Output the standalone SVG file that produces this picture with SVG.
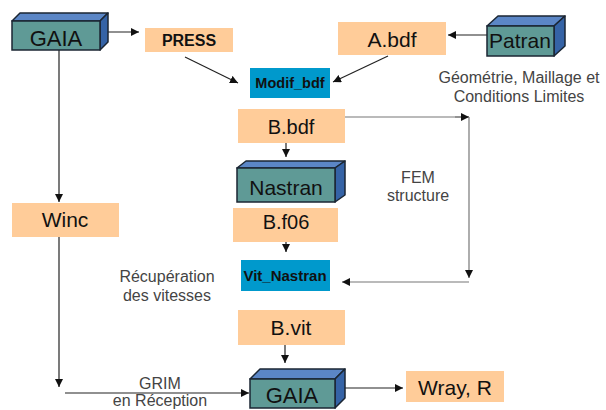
<svg xmlns="http://www.w3.org/2000/svg" width="606" height="410" viewBox="0 0 606 410">
<defs>
<style>
.bx{fill:#FFCC99}
.bl{fill:#0099CC}
.fr{fill:#5F9A96;stroke:#1B2633;stroke-width:1.5}
.tp{fill:#5B86C6;stroke:#1B2633;stroke-width:1.5;stroke-linejoin:round}
.sd{fill:#3563A6;stroke:#1B2633;stroke-width:1.5;stroke-linejoin:round}
.t{font-family:"Liberation Sans",Arial,sans-serif;fill:#111;text-anchor:middle}
.tb{font-family:"Liberation Sans",Arial,sans-serif;font-weight:bold;fill:#111;text-anchor:middle}
.lb{font-family:"Liberation Sans",Arial,sans-serif;font-size:16px;fill:#444;text-anchor:middle}
.ln{stroke:#222;stroke-width:1.2;fill:none}
.lg{stroke:#777;stroke-width:1.2;fill:none}
</style>
<marker id="ah" viewBox="0 0 10 10" refX="10" refY="5" markerWidth="8" markerHeight="8" markerUnits="userSpaceOnUse" orient="auto">
<path d="M0,0 L10,5 L0,10 z" fill="#111"/>
</marker>
</defs>

<g id="connectors">
<line class="ln" x1="100" y1="32" x2="139" y2="32" marker-end="url(#ah)"/>
<line class="ln" x1="185" y1="57" x2="238" y2="83" marker-end="url(#ah)"/>
<line class="ln" x1="388" y1="56" x2="333" y2="82" marker-end="url(#ah)"/>
<line class="ln" x1="489" y1="35" x2="448" y2="35" marker-end="url(#ah)"/>
<line class="ln" x1="286" y1="143" x2="286" y2="157" marker-end="url(#ah)"/>
<line class="ln" x1="286" y1="242" x2="286" y2="252" marker-end="url(#ah)"/>
<polyline class="lg" points="345,117 469,117"/>
<line class="lg" x1="455" y1="117" x2="469" y2="117" marker-end="url(#ah)"/>
<line class="lg" x1="469" y1="117" x2="469" y2="278" marker-end="url(#ah)"/>
<line class="lg" x1="469" y1="282" x2="342" y2="282" marker-end="url(#ah)"/>
<line class="ln" x1="59" y1="50" x2="59" y2="202" marker-end="url(#ah)"/>
<line class="ln" x1="59" y1="237" x2="59" y2="387" marker-end="url(#ah)"/>
<line class="ln" x1="65" y1="393" x2="249" y2="393" marker-end="url(#ah)"/>
<line class="ln" x1="285" y1="345" x2="285" y2="363" marker-end="url(#ah)"/>
<line class="ln" x1="340" y1="388" x2="403" y2="388" marker-end="url(#ah)"/>
</g>

<g id="gaia-top">
<polygon class="tp" points="12,21 20,13 108,13 100,21"/>
<polygon class="sd" points="100,21 108,13 108,42 100,50"/>
<rect class="fr" x="12" y="21" width="88" height="29"/>
<text class="t" x="56" y="46" font-size="22">GAIA</text>
</g>

<g id="press">
<rect class="bx" x="145" y="28" width="88" height="24"/>
<text class="tb" x="189" y="46" font-size="16">PRESS</text>
</g>

<g id="abdf">
<rect class="bx" x="338" y="22" width="108" height="33"/>
<text class="t" x="392" y="47" font-size="21">A.bdf</text>
</g>

<g id="patran">
<polygon class="tp" points="487,26 498,16 565,16 554,26"/>
<polygon class="sd" points="554,26 565,16 565,46 554,56"/>
<rect class="fr" x="487" y="26" width="67" height="30"/>
<text class="t" x="520" y="48" font-size="21">Patran</text>
</g>

<g id="geom-label">
<text class="lb" x="519" y="83">Géométrie, Maillage et</text>
<text class="lb" x="519" y="102">Conditions Limites</text>
</g>

<g id="modif">
<rect class="bl" x="250" y="68" width="80" height="30"/>
<text class="tb" x="290" y="88" font-size="14.5">Modif_bdf</text>
</g>

<g id="bbdf">
<rect class="bx" x="238" y="109" width="107" height="34"/>
<text class="t" x="291" y="134" font-size="20">B.bdf</text>
</g>

<g id="nastran">
<polygon class="tp" points="237,168 246,161 345,161 335,168"/>
<polygon class="sd" points="335,168 345,161 345,195 335,202"/>
<rect class="fr" x="237" y="168" width="98" height="34"/>
<text class="t" x="286" y="195" font-size="21">Nastran</text>
</g>

<g id="fem-label">
<text class="lb" x="418" y="183">FEM</text>
<text class="lb" x="418" y="201">structure</text>
</g>

<g id="bf06">
<rect class="bx" x="233" y="208" width="105" height="34"/>
<text class="t" x="286" y="229" font-size="20">B.f06</text>
</g>

<g id="vit-nastran">
<rect class="bl" x="241" y="260" width="89" height="31"/>
<text class="tb" x="285" y="281" font-size="15">Vit_Nastran</text>
</g>

<g id="recup-label">
<text class="lb" x="167" y="282">Récupération</text>
<text class="lb" x="167" y="301">des vitesses</text>
</g>

<g id="winc">
<rect class="bx" x="12" y="203" width="107" height="34"/>
<text class="t" x="65" y="227" font-size="21">Winc</text>
</g>

<g id="bvit">
<rect class="bx" x="238" y="310" width="107" height="35"/>
<text class="t" x="291" y="335" font-size="21">B.vit</text>
</g>

<g id="grim-label">
<text class="lb" x="160" y="389">GRIM</text>
<text class="lb" x="160" y="406">en Réception</text>
</g>

<g id="gaia-bottom">
<polygon class="tp" points="250,379 260,369 345,369 335,379"/>
<polygon class="sd" points="335,379 345,369 345,398 335,408"/>
<rect class="fr" x="250" y="379" width="85" height="29"/>
<text class="t" x="292" y="403" font-size="22">GAIA</text>
</g>

<g id="wray">
<rect class="bx" x="406" y="371" width="98" height="31"/>
<text class="t" x="455" y="395" font-size="21">Wray, R</text>
</g>
</svg>
